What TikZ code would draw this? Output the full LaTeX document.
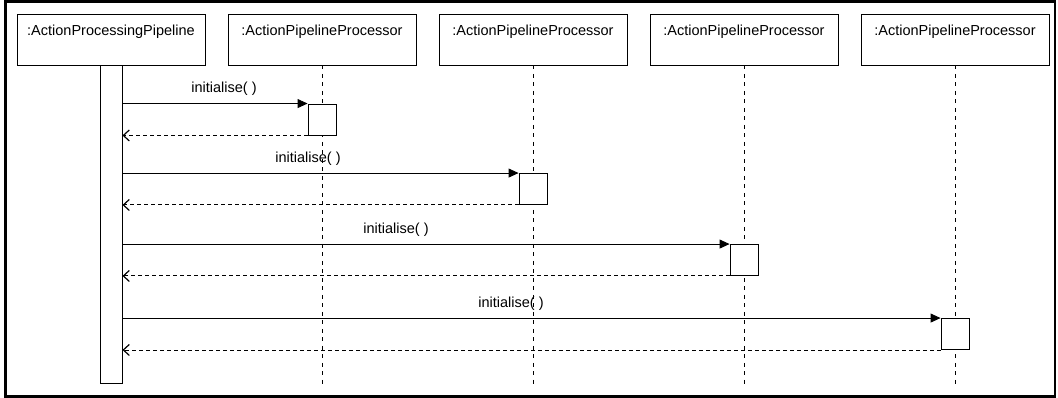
\documentclass[tikz,border=0pt]{standalone}
\usepackage{fontspec}
\setmainfont{Liberation Sans}
\usetikzlibrary{arrows.meta}
\begin{document}
\begin{tikzpicture}[x=1pt,y=-1pt,
  font=\fontsize{14.5}{17}\selectfont,
  hdr/.style={draw,line width=0.9pt,fill=white,minimum width=188pt,inner xsep=2pt,
    inner ysep=10pt,text height=12pt,text depth=19pt},
  act/.style={draw,line width=0.9pt,fill=white,minimum width=28pt,minimum height=31pt,inner sep=0pt},
  life/.style={line width=0.9pt,dash pattern=on 4pt off 4.5pt},
  call/.style={line width=0.9pt,-{Triangle[length=10pt,width=9pt]}},
  ret/.style={line width=0.9pt,dash pattern=on 4pt off 3pt,-{Straight Barb[length=6pt,width=11pt,line width=1.2pt]}},
  lbl/.style={anchor=base,inner sep=0pt}]
\useasboundingbox (0,0) rectangle (1058,398);
\fill[white] (0,0) rectangle (1058,398);
\draw[line width=2.5pt] (5.5,1.5) rectangle (1055,396.5);

\node[hdr] (h1) at (111,39.5) {:ActionProcessingPipeline};
\node[hdr] (h2) at (322,39.5) {:ActionPipelineProcessor};
\node[hdr] (h3) at (533,39.5) {:ActionPipelineProcessor};
\node[hdr] (h4) at (744,39.5) {:ActionPipelineProcessor};
\node[hdr] (h5) at (955,39.5) {:ActionPipelineProcessor};

\coordinate (e2) at (322,384);
\coordinate (e3) at (533,384);
\coordinate (e4) at (744,384);
\coordinate (e5) at (955,384);
\draw[life] (h2.south) -- (e2);
\draw[life] (h3.south) -- (e3);
\draw[life] (h4.south) -- (e4);
\draw[life] (h5.south) -- (e5);

\node[act,minimum width=22pt,minimum height=318pt] (p) at (111,224) {};
\node[act] (a1) at (322,119.5) {};
\node[act] (a2) at (533,189) {};
\node[act] (a3) at (744,260) {};
\node[act] (a4) at (955,334) {};

\draw[call] (p.east |- a1.north) -- (a1.north west);
\draw[ret] (a1.south west) -- (p.east |- a1.south);
\draw[call] (p.east |- a2.north) -- (a2.north west);
\draw[ret] (a2.south west) -- (p.east |- a2.south);
\draw[call] (p.east |- a3.north) -- (a3.north west);
\draw[ret] (a3.south west) -- (p.east |- a3.south);
\draw[call] (p.east |- a4.north) -- (a4.north west);
\draw[ret] (a4.south west) -- (p.east |- a4.south);

\node[lbl] (m1) at (224,93) {initialise( )};
\node[lbl] (m2) at (308,163) {initialise( )};
\node[lbl] (m3) at (396,234) {initialise( )};
\node[lbl] (m4) at (511,308) {initialise( )};
\end{tikzpicture}
\end{document}
